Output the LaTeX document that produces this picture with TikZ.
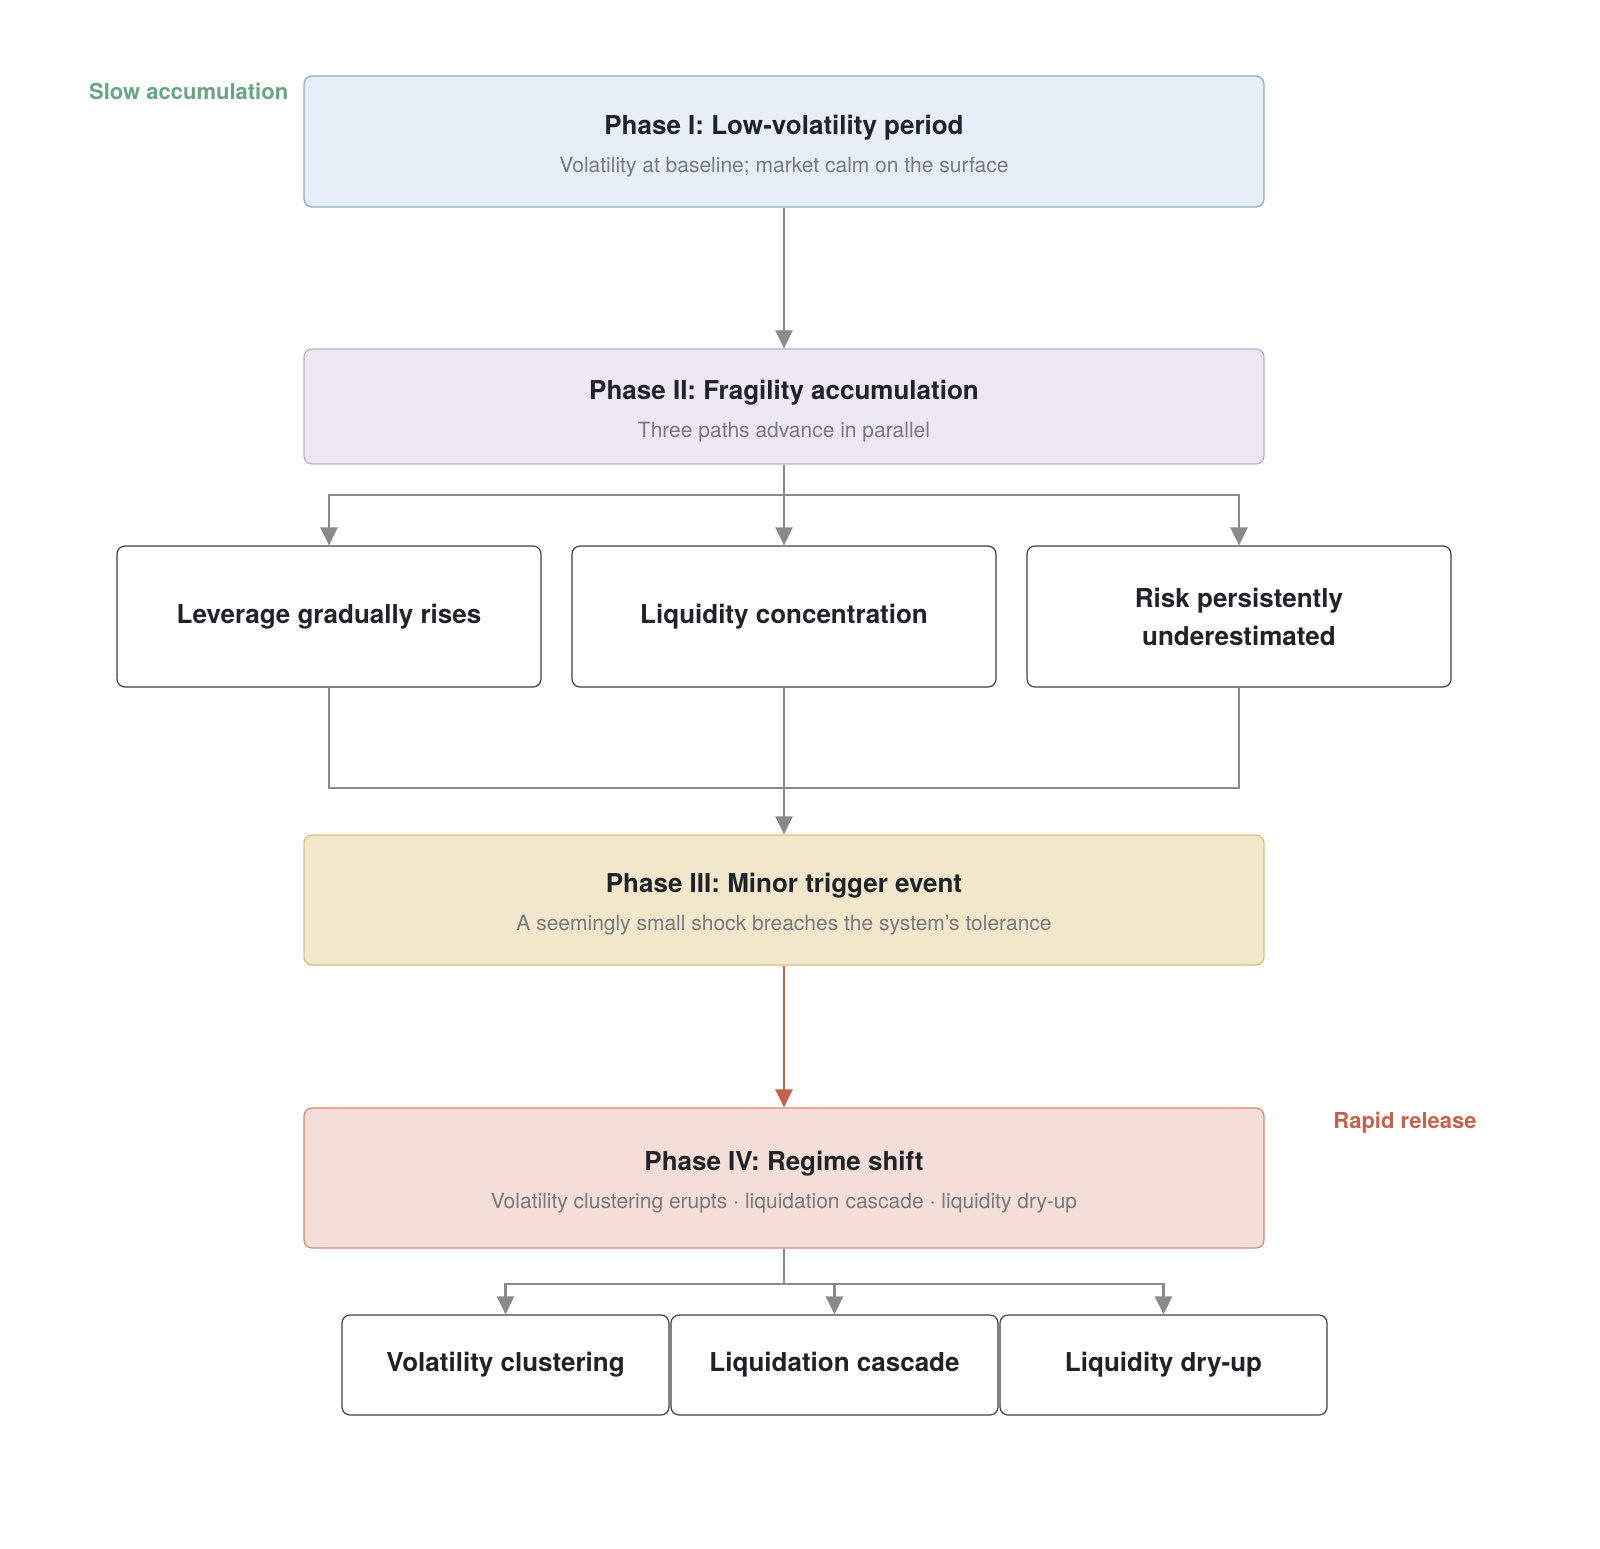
\documentclass[tikz,border=0pt]{standalone}
\usepackage{fontspec}
\setmainfont{TeX Gyre Heros}
\usetikzlibrary{arrows.meta}

\definecolor{titletext}{HTML}{1F2328}
\definecolor{subtext}{HTML}{777B80}
\definecolor{linegray}{HTML}{8A8A8A}
\definecolor{alarmred}{HTML}{C4634B}
\definecolor{calmgreen}{HTML}{6AA583}
\definecolor{phaseonefill}{HTML}{E8EEF7}
\definecolor{phaseoneline}{HTML}{90A8CA}
\definecolor{phasetwofill}{HTML}{EEE8F2}
\definecolor{phasetwoline}{HTML}{B8AECF}
\definecolor{phasethreefill}{HTML}{F2E6CB}
\definecolor{phasethreeline}{HTML}{D8BE7C}
\definecolor{phasefourfill}{HTML}{F4DED7}
\definecolor{phasefourline}{HTML}{D98571}

\newcommand{\phasetext}[2]{{\fontsize{13}{16}\selectfont\bfseries\rule{0pt}{14pt}#1}\\[7pt]{\fontsize{10.5}{13}\selectfont\color{subtext}#2}}

\begin{document}
\begin{tikzpicture}[x=0.5pt, y=-0.5pt, thick]
                \tikzstyle{phase} = [draw, rounded corners=4pt, line width=0.6pt, minimum width=480pt, text=titletext, align=center, inner sep=0pt]
                \tikzstyle{pathbox} = [draw=black!75, rounded corners=4pt, line width=0.6pt, fill=white, minimum width=212pt, minimum height=70.5pt, text=titletext, align=center, font=\fontsize{13}{19}\selectfont\bfseries]
                \tikzstyle{effect} = [draw=black!75, rounded corners=4pt, line width=0.6pt, fill=white, minimum width=163.5pt, minimum height=50pt, text=titletext, font=\fontsize{13}{16}\selectfont\bfseries]
                \tikzstyle{conn} = [draw=linegray, line width=1.3pt]
                \tikzstyle{flow} = [conn, -{Triangle[width=8.5pt,length=9pt]}]
                \tikzstyle{flowred} = [draw=alarmred, line width=1.3pt, -{Triangle[width=8.5pt,length=9pt]}]
                \tikzstyle{side} = [font=\fontsize{11}{13}\selectfont\bfseries, inner sep=0pt]

                \useasboundingbox (0,0) rectangle (1600,1548);

                % Phase boxes (centre column)
                \node[phase, fill=phaseonefill, draw=phaseoneline, minimum height=65.5pt] (p1) at (784,141.5) {\phasetext{Phase I: Low-volatility period}{Volatility at baseline; market calm on the surface}};
                \node[phase, fill=phasetwofill, draw=phasetwoline, minimum height=57.5pt] (p2) at (784,406.5) {\phasetext{Phase II: Fragility accumulation}{Three paths advance in parallel}};
                \node[phase, fill=phasethreefill, draw=phasethreeline, minimum height=65pt] (p3) at (784,900) {\phasetext{Phase III: Minor trigger event}{A seemingly small shock breaches the system's tolerance}};
                \node[phase, fill=phasefourfill, draw=phasefourline, minimum height=70pt] (p4) at (784,1178) {\phasetext{Phase IV: Regime shift}{Volatility clustering erupts $\cdot$ liquidation cascade $\cdot$ liquidity dry-up}};

                % Fragility paths (middle row)
                \node[pathbox] (lev) at (329,616.5) {Leverage gradually rises};
                \node[pathbox] (liq) at (784,616.5) {Liquidity concentration};
                \node[pathbox] (risk) at (1239,616.5) {Risk persistently\\underestimated};

                % Effects (bottom row)
                \node[effect] (vc) at (505.5,1365) {Volatility clustering};
                \node[effect] (lc) at (834.5,1365) {Liquidation cascade};
                \node[effect] (ld) at (1163.5,1365) {Liquidity dry-up};

                % Side labels
                \node[side, text=calmgreen, anchor=east] (slow) at (289,91) {Slow accumulation};
                \node[side, text=alarmred] (rapid) at (1405,1123) {Rapid release};

                % Junction points
                \coordinate (split1) at (784,495);
                \coordinate (merge1) at (784,788);
                \coordinate (split2) at (784,1284);

                \draw[flow] (p1) -- (p2);
                \draw[conn] (p2) -- (split1);
                \draw[flow] (split1) -| (lev);
                \draw[flow] (split1) -- (liq);
                \draw[flow] (split1) -| (risk);
                \draw[conn] (lev) |- (merge1);
                \draw[conn] (risk) |- (merge1);
                \draw[conn] (liq) -- (merge1);
                \draw[flow] (merge1) -- (p3);
                \draw[flowred] (p3) -- (p4);
                \draw[conn] (p4) -- (split2);
                \draw[flow] (split2) -| (vc);
                \draw[flow] (split2) -| (lc);
                \draw[flow] (split2) -| (ld);
            \end{tikzpicture}
\end{document}
